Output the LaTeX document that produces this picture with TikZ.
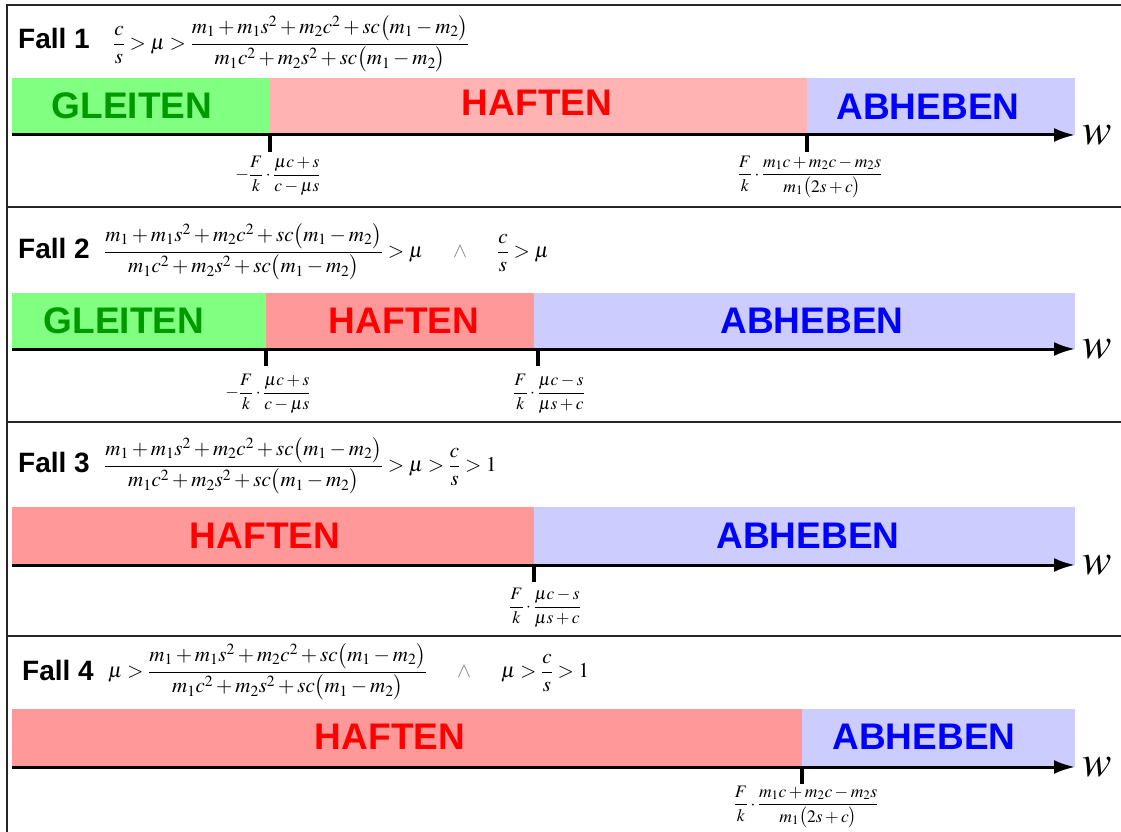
\documentclass[tikz,border=0pt]{standalone}
\usepackage{amsmath}
\usepackage{mathptmx}
\usepackage{fontspec}
\setmainfont{Liberation Serif}
\setsansfont{Liberation Sans}
\usetikzlibrary{arrows.meta}
\definecolor{gleitfill}{HTML}{80FF80}
\definecolor{gleittext}{HTML}{009900}
\definecolor{haftfill}{HTML}{FF9999}
\definecolor{haftlight}{HTML}{FFB3B3}
\definecolor{hafttext}{HTML}{FF0000}
\definecolor{abhebfill}{HTML}{CCCCFF}
\definecolor{abhebtext}{HTML}{0000FF}
\newcommand{\grenzmu}{\dfrac{m_1+m_1s^2+m_2c^2+sc\bigl(m_1-m_2\bigr)}{m_1c^2+m_2s^2+sc\bigl(m_1-m_2\bigr)}}
\newcommand{\wgleit}{-\dfrac{F}{k}\cdot\dfrac{\mu c+s}{c-\mu s}}
\newcommand{\wabheb}{\dfrac{F}{k}\cdot\dfrac{\mu c-s}{\mu s+c}}
\newcommand{\wmasse}{\dfrac{F}{k}\cdot\dfrac{m_1c+m_2c-m_2s}{m_1\bigl(2s+c\bigr)}}
\newcommand{\und}{\hspace{30pt}\textcolor{gray}{\wedge}\hspace{30pt}}
\tikzset{
  frame/.style={line width=1.3pt, color=black!85},
  axis/.style={-{Latex[length=21pt, width=14pt]}, line width=3pt},
  tickmark/.style={line width=4pt},
  zone/.style={font=\sffamily\bfseries\fontsize{37}{40}\selectfont},
  fall/.style={font=\sffamily\bfseries\fontsize{28}{30}\selectfont, anchor=west, inner sep=0pt},
  cond/.style={font=\fontsize{21}{24}\selectfont, anchor=west, inner sep=0pt},
  bound/.style={font=\fontsize{17.5}{20}\selectfont, inner sep=0pt},
  wlabel/.style={font=\fontsize{44}{46}\selectfont, inner sep=0pt}
}

\begin{document}
\begin{tikzpicture}[x=1pt, y=-1pt]
\useasboundingbox (0,0) rectangle (1121,832);
% Rahmen
\draw[frame] (7,832) -- (7,5) -- (1121,5);
\foreach \y in {207,422,636} {\draw[frame] (7,\y) -- (1121,\y);}
% Fall 1
\fill[gleitfill] (12,78) rectangle (270,135);
\fill[haftlight] (270,78) rectangle (807,135);
\fill[abhebfill] (807,78) rectangle (1075,135);
\node[fall] (fall1) at (18,38) {Fall 1};
\node[cond] (cond1) at (113,44) {$\dfrac{c}{s}>\mu>\grenzmu$};
\node[zone, gleittext] (gleiten1) at (132,106) {GLEITEN};
\node[zone, hafttext] (haften1) at (537,103) {HAFTEN};
\node[zone, abhebtext] (abheben1) at (928,107) {ABHEBEN};
\draw[tickmark] (270,135) -- ++(0,17);
\draw[tickmark] (807,135) -- ++(0,17);
\node[bound] (grenze1a) at (278,176) {$\wgleit$};
\node[bound] (grenze1b) at (810,177) {$\wmasse$};
% Fall 2
\fill[gleitfill] (12,293) rectangle (266,349);
\fill[haftfill] (266,293) rectangle (534,349);
\fill[abhebfill] (534,293) rectangle (1075,349);
\node[fall] (fall2) at (18,248) {Fall 2};
\node[cond] (cond2) at (104,252) {$\grenzmu>\mu\und\dfrac{c}{s}>\mu$};
\node[zone, gleittext] (gleiten2) at (124,321) {GLEITEN};
\node[zone, hafttext] (haften2) at (404,321) {HAFTEN};
\node[zone, abhebtext] (abheben2) at (812,321) {ABHEBEN};
\draw[tickmark] (266,349) -- ++(0,17);
\draw[tickmark] (538,349) -- ++(0,17);
\node[bound] (grenze2a) at (268,394) {$\wgleit$};
\node[bound] (grenze2b) at (549,394) {$\wabheb$};
% Fall 3
\fill[haftfill] (12,507) rectangle (534,565);
\fill[abhebfill] (534,507) rectangle (1075,565);
\node[fall] (fall3) at (18,463) {Fall 3};
\node[cond] (cond3) at (104,466) {$\grenzmu>\mu>\dfrac{c}{s}>1$};
\node[zone, hafttext] (haften3) at (265,536) {HAFTEN};
\node[zone, abhebtext] (abheben3) at (808,536) {ABHEBEN};
\draw[tickmark] (534,565) -- ++(0,17);
\node[bound] (grenze3) at (545,608) {$\wabheb$};
% Fall 4
\fill[haftfill] (12,709) rectangle (802,767);
\fill[abhebfill] (802,709) rectangle (1075,767);
\node[fall] (fall4) at (22,670) {Fall 4};
\node[cond] (cond4) at (108,672) {$\mu>\grenzmu\und\mu>\dfrac{c}{s}>1$};
\node[zone, hafttext] (haften4) at (390,737) {HAFTEN};
\node[zone, abhebtext] (abheben4) at (924,737) {ABHEBEN};
\draw[tickmark] (802,767) -- ++(0,17);
\node[bound] (grenze4) at (806,807) {$\wmasse$};
% Achsen
\foreach \n/\y in {1/135,2/349,3/565,4/767} {
  \coordinate (start\n) at (12,\y);
  \coordinate (ende\n) at (1075,\y);
  \draw[axis] (start\n) -- (ende\n);
  \node[wlabel] (w\n) at (1097,\y) {$w$};
}
\end{tikzpicture}
\end{document}
